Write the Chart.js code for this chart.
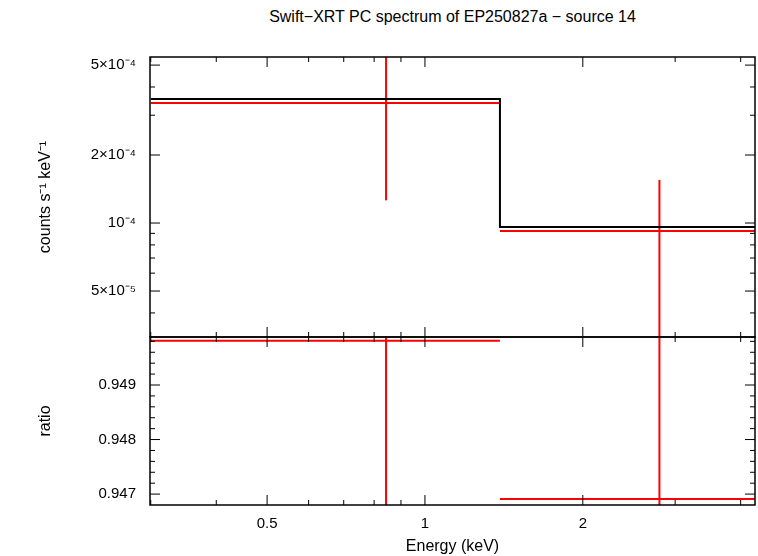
<!DOCTYPE html>
<html><head><meta charset="utf-8">
<script src="https://cdn.jsdelivr.net/npm/chart.js@4/dist/chart.umd.min.js"></script>
<style>
body{margin:0;width:758px;height:556px;background:#fff;position:relative;overflow:hidden;font-family:"Liberation Sans",Arial,sans-serif}
canvas{position:absolute;left:0}
#title{position:absolute;top:8px;left:150px;width:605px;text-align:center;font-size:16px}
</style></head><body>
<div id="title">Swift−XRT PC spectrum of EP250827a − source 14</div>
<canvas id="c1" style="top:0" width="758" height="352"></canvas>
<canvas id="c2" style="top:322px" width="758" height="234"></canvas>
<script>
const binLo=[0.3,1.39];
const binHi=[1.39,4.26];
const binCenter=[0.843,2.80];
const modelVals=[3.54e-4,9.6e-5];
const dataVals=[3.40e-4,9.22e-5];
const dataErr=[2.14e-4,6.3e-5];
const ratioVals=[0.94981,0.94691];
const ratioErr=[0.004,0.004];
const xTicks=[0.5,1,2];
const xMinor=[0.3,0.4,0.6,0.7,0.8,0.9,3,4];
const yTicksTop=[5e-5,1e-4,2e-4,5e-4];
const yTopLabels=['5×10⁻⁵','10⁻⁴','2×10⁻⁴','5×10⁻⁴'];
const yMinorTop=[4e-5,6e-5,7e-5,8e-5,9e-5,3e-4,4e-4];
const yTicksBot=[0.947,0.948,0.949];
const XMIN=0.299,XMAX=4.26;
const font={family:'"Liberation Sans",Arial,sans-serif',size:15};

function errSets(vals,errs){
  const s=[];
  vals.forEach((v,i)=>{
    s.push({data:[{x:binLo[i],y:v},{x:binHi[i],y:v}],borderColor:'#f00',borderWidth:2,pointRadius:0,showLine:true});
    s.push({data:[{x:binCenter[i],y:v-errs[i]},{x:binCenter[i],y:v+errs[i]}],borderColor:'#f00',borderWidth:2,pointRadius:0,showLine:true});
  });
  return s;
}
function framePlugin(yMaj,yMin,xMaj){return{id:'frame',afterDraw(ch){
  const a=ch.chartArea,c=ch.ctx,xs=ch.scales.x,ys=ch.scales.y;
  c.save();c.strokeStyle='#000';c.lineWidth=1.5;c.strokeRect(a.left,a.top,a.right-a.left,a.bottom-a.top);
  c.lineWidth=1;
  const tk=(arr,len)=>{arr.forEach(v=>{const p=xs.getPixelForValue(v);if(p<a.left||p>a.right)return;
    c.beginPath();c.moveTo(p,a.bottom);c.lineTo(p,a.bottom-len);c.moveTo(p,a.top);c.lineTo(p,a.top+len);c.stroke();});};
  tk(xMaj,10);tk(xMinor,5);
  const ty=(arr,len)=>{arr.forEach(v=>{const p=ys.getPixelForValue(v);if(p<a.top||p>a.bottom)return;
    c.beginPath();c.moveTo(a.left,p);c.lineTo(a.left+len,p);c.moveTo(a.right,p);c.lineTo(a.right-len,p);c.stroke();});};
  ty(yMaj,10);ty(yMin,5);
  c.restore();}};}

const modelSet={data:[{x:binLo[0],y:modelVals[0]},{x:binLo[1],y:modelVals[1]},{x:XMAX,y:modelVals[1]}],
  borderColor:'#000',borderWidth:2,pointRadius:0,showLine:true,stepped:'before'};

new Chart(document.getElementById('c1'),{type:'scatter',
  data:{datasets:[modelSet,...errSets(dataVals,dataErr)]},
  options:{animation:false,responsive:false,layout:{padding:{top:57,bottom:3,right:3,left:32}},
    plugins:{legend:{display:false},tooltip:{enabled:false}},
    scales:{
      x:{type:'logarithmic',min:XMIN,max:XMAX,display:false},
      y:{type:'logarithmic',min:3.13e-5,max:5.43e-4,grid:{display:false},border:{display:false},
        afterFit(s){s.width=118;},
        afterBuildTicks(s){s.ticks=yTicksTop.map(v=>({value:v}));},
        ticks:{color:'#000',font,padding:6,callback:(v)=>yTopLabels[yTicksTop.indexOf(v)]},
        title:{display:true,text:'counts s⁻¹ keV⁻¹',color:'#000',font:{...font,size:16}}}
    }},
  plugins:[framePlugin(yTicksTop,yMinorTop,xTicks)]});

new Chart(document.getElementById('c2'),{type:'scatter',
  data:{datasets:errSets(ratioVals,ratioErr)},
  options:{animation:false,responsive:false,layout:{padding:{top:2,right:3,left:32}},
    plugins:{legend:{display:false},tooltip:{enabled:false}},
    scales:{
      x:{type:'logarithmic',min:XMIN,max:XMAX,grid:{display:false},border:{display:false},
        afterFit(s){s.height=51;},
        afterBuildTicks(s){s.ticks=xTicks.map(v=>({value:v}));},
        ticks:{color:'#000',font,padding:2,maxRotation:0,autoSkip:false,callback:(v)=>String(v)},
        title:{display:true,text:'Energy (keV)',color:'#000',font:{...font,size:16},padding:0}},
      y:{min:0.9468,max:0.94988,grid:{display:false},border:{display:false},
        afterFit(s){s.width=118;},
        afterBuildTicks(s){s.ticks=yTicksBot.map(v=>({value:v}));},
        ticks:{color:'#000',font,padding:6,callback:(v)=>v.toFixed(3)},
        title:{display:true,text:'ratio',color:'#000',font:{...font,size:16}}}
    }},
  plugins:[framePlugin(yTicksBot,[0.9472,0.9474,0.9476,0.9478,0.9482,0.9484,0.9486,0.9488,0.9492,0.9494,0.9496,0.9498],xTicks)]});
</script></body></html>
